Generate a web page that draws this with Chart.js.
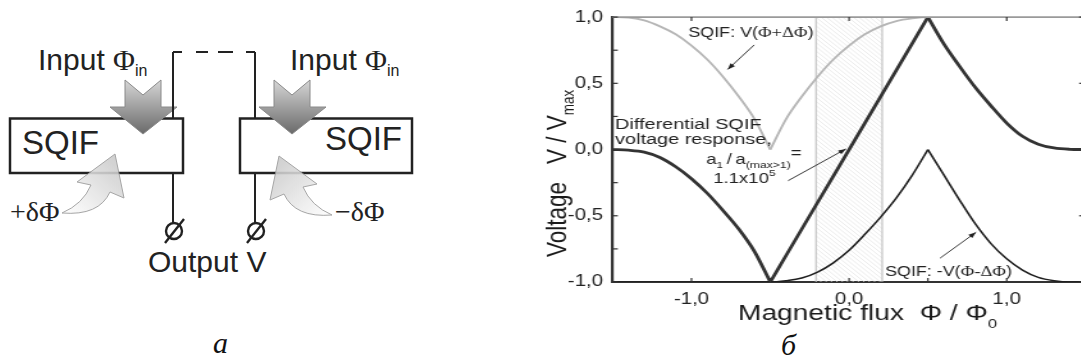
<!DOCTYPE html>
<html>
<head>
<meta charset="utf-8">
<script src="https://cdn.jsdelivr.net/npm/chart.js@4/dist/chart.umd.min.js"></script>
<style>
  html, body { margin: 0; padding: 0; background: #fff; }
  body { width: 1081px; height: 363px; overflow: hidden; position: relative; }
  #scheme { position: absolute; left: 0; top: 0; }
  #chartWrap {
    position: absolute; left: 520px; top: 0; width: 470px; height: 363px;
    transform: scaleX(1.28); transform-origin: 0 0;
  }
  .figLabel {
    position: absolute; font-family: "Liberation Serif", "Times New Roman", serif;
    font-style: italic; font-size: 30px; color: #111; line-height: 1;
  }
</style>
</head>
<body>

<svg id="scheme" width="470" height="363" xmlns="http://www.w3.org/2000/svg">
  <defs>
    <linearGradient id="gDown" x1="0" y1="0" x2="0" y2="1">
      <stop offset="0" stop-color="#d6d6d6"/>
      <stop offset="1" stop-color="#6a6a6a"/>
    </linearGradient>
    <linearGradient id="gCurl" x1="0" y1="1" x2="1" y2="0">
      <stop offset="0" stop-color="#ffffff"/>
      <stop offset="1" stop-color="#c4c4c4"/>
    </linearGradient>
  </defs>

  <!-- boxes -->
  <rect x="10" y="118.5" width="173" height="54.5" fill="#fff" stroke="#222" stroke-width="2.5"/>
  <rect x="240" y="118.5" width="172" height="54.5" fill="#fff" stroke="#222" stroke-width="2.5"/>

  <!-- curved flux arrows -->
  <g opacity="0.88">
    <path d="M62,213 Q99,216 110,192 L124,198 L115,154 L77,182 L91,185 Q83,204 62,213 Z"
          fill="url(#gCurl)" stroke="#9a9a9a" stroke-width="1"/>
  </g>
  <g transform="translate(394,2) scale(-1,1)" opacity="0.88">
    <path d="M62,213 Q99,216 110,192 L124,198 L115,154 L77,182 L91,185 Q83,204 62,213 Z"
          fill="url(#gCurl)" stroke="#9a9a9a" stroke-width="1"/>
  </g>

  <!-- input arrows -->
  <polygon points="125,80 143,95 161,80 161,107 177,107 143,134 110,107 125,107"
           fill="url(#gDown)" stroke="#8a8a8a" stroke-width="1"/>
  <polygon points="274,80 292,95 310,80 310,107 326,107 292,134 259,107 274,107"
           fill="url(#gDown)" stroke="#8a8a8a" stroke-width="1"/>

  <!-- wires -->
  <g stroke="#222" stroke-width="2" fill="none">
    <path d="M173,118 V52"/>
    <path d="M255,118 V52"/>
    <path d="M173,52 H255" stroke-dasharray="9,14,12,10,15,13,9"/>
    <path d="M173,173 V223"/>
    <path d="M255,173 V223"/>
    <circle cx="174" cy="231" r="8" fill="#fff" stroke-width="2.4"/>
    <circle cx="256" cy="231" r="8" fill="#fff" stroke-width="2.4"/>
    <path d="M165,243 L184,219" stroke-width="2.4"/>
    <path d="M247,243 L266,219" stroke-width="2.4"/>
  </g>

  <!-- labels -->
  <g fill="#222" font-family="Liberation Sans, Arial, sans-serif">
    <text x="38" y="70" font-size="30">Input <tspan font-family="Liberation Serif, serif">Φ</tspan><tspan font-size="16" dy="6">in</tspan></text>
    <text x="290" y="70" font-size="30">Input <tspan font-family="Liberation Serif, serif">Φ</tspan><tspan font-size="16" dy="6">in</tspan></text>
    <text x="22" y="154" font-size="33">SQIF</text>
    <text x="325" y="150" font-size="33">SQIF</text>
    <text x="148" y="272" font-size="30">Output V</text>
    <text x="10" y="221" font-size="28" font-family="Liberation Serif, serif">+δΦ</text>
    <text x="335" y="221" font-size="28" font-family="Liberation Serif, serif">−δΦ</text>
  </g>
</svg>

<div class="figLabel" style="left:213px; top:328px;">а</div>
<div class="figLabel" style="left:781px; top:330px;">б</div>

<div id="chartWrap"><canvas id="fluxChart"></canvas></div>

<script>
// magnetic flux Φ/Φ0 (shared grid for all curves)
const fluxX = [-1.5, -1.4, -1.3, -1.2, -1.1, -1.0, -0.9, -0.8, -0.7, -0.6, -0.5,
               -0.4, -0.3, -0.2, -0.1, 0.0, 0.1, 0.2, 0.3, 0.4, 0.5,
               0.6, 0.7, 0.8, 0.9, 1.0, 1.1, 1.2, 1.3, 1.4, 1.5];

// SQIF: V(Φ+ΔΦ), light grey
const sqifPlus = [1.0, 0.997, 0.975, 0.93, 0.87, 0.785, 0.68, 0.55, 0.40, 0.23, 0.0,
                  0.23, 0.40, 0.55, 0.68, 0.785, 0.87, 0.93, 0.97, 0.99, 1.0,
                  1.0, 1.0, 1.0, 1.0, 1.0, 1.0, 1.0, 1.0, 1.0, 1.0];

// differential SQIF voltage response
const sqifDiff = [0.0, -0.005, -0.02, -0.06, -0.13, -0.22, -0.33, -0.46, -0.60, -0.77, -1.0,
                  -0.8, -0.6, -0.4, -0.2, 0.0, 0.2, 0.4, 0.6, 0.8, 1.0,
                  0.80, 0.63, 0.47, 0.33, 0.20, 0.10, 0.04, 0.012, 0.002, 0.0];

// SQIF: -V(Φ-ΔΦ)
const sqifMinus = [-1.0, -1.0, -1.0, -1.0, -1.0, -1.0, -1.0, -1.0, -1.0, -1.0, -1.0,
                   -0.99, -0.97, -0.925, -0.855, -0.76, -0.64, -0.51, -0.365, -0.195, 0.0,
                   -0.19, -0.38, -0.56, -0.71, -0.825, -0.91, -0.965, -0.99, -1.0, -1.0];

// cusps where the curves break
const cuspPlus = [-0.5];
const cuspDiff = [-0.5, 0.5];
const cuspMinus = [0.5];

// tick labels
const xTickLabels = [-1, 0, 1];
const yTickLabels = [-1, -0.5, 0, 0.5, 1];

// shaded working range
const bandRange = [-0.21, 0.21];

const SANS = '"Liberation Sans", Arial, sans-serif';
const SERIF = '"Liberation Serif", "Times New Roman", serif';

const fmt = v => v.toFixed(1).replace('.', ',');
const near = (a, b) => Math.abs(a - b) < 1e-6;

// split a series at its cusps so each smooth piece keeps a sharp corner
function pieces(ys, cusps) {
    const cuts = [0, ...cusps.map(c => fluxX.findIndex(x => near(x, c))), fluxX.length - 1];
    const out = [];
    for (let i = 0; i < cuts.length - 1; i++) {
        const pts = [];
        for (let k = cuts[i]; k <= cuts[i + 1]; k++) pts.push({ x: fluxX[k], y: ys[k] });
        out.push(pts);
    }
    return out;
}

function lineSets(ys, cusps, color, width) {
    return pieces(ys, cusps).map(pts => ({
        data: pts,
        borderColor: color,
        borderWidth: width,
        pointRadius: 0,
        cubicInterpolationMode: 'monotone',
        fill: false,
    }));
}

const datasets = [
    ...lineSets(sqifPlus, cuspPlus, '#b6b6b6', 1.9),
    ...lineSets(sqifMinus, cuspMinus, '#1e1e1e', 1.6),
    ...lineSets(sqifDiff, cuspDiff, '#333333', 2.8),
];

function drawParts(ctx, parts, x, y) {
    ctx.textAlign = 'left';
    ctx.textBaseline = 'alphabetic';
    for (const p of parts) {
        ctx.font = `${p.size}px ${p.family || SANS}`;
        ctx.fillText(p.t, x, y + (p.dy || 0));
        x += ctx.measureText(p.t).width;
    }
}

function arrow(ctx, x0, y0, x1, y1) {
    const a = Math.atan2(y1 - y0, x1 - x0);
    ctx.beginPath();
    ctx.moveTo(x0, y0);
    ctx.lineTo(x1, y1);
    ctx.stroke();
    ctx.beginPath();
    ctx.moveTo(x1, y1);
    ctx.lineTo(x1 - 6 * Math.cos(a) + 2.3 * Math.sin(a), y1 - 6 * Math.sin(a) - 2.3 * Math.cos(a));
    ctx.lineTo(x1 - 6 * Math.cos(a) - 2.3 * Math.sin(a), y1 - 6 * Math.sin(a) + 2.3 * Math.cos(a));
    ctx.closePath();
    ctx.fill();
}

const notes = [
    { x: -1.02, y: 0.852, parts: [{ t: 'SQIF: V(', size: 14 }, { t: 'Φ+ΔΦ', size: 14.5, family: SERIF }, { t: ')', size: 14 }] },
    { x: -1.484, y: 0.155, parts: [{ t: 'Differential SQIF', size: 15.5 }] },
    { x: -1.484, y: 0.042, parts: [{ t: 'voltage response,', size: 15.5 }] },
    { x: -0.907, y: -0.107, parts: [{ t: 'a', size: 14.5 }, { t: '1', size: 9, dy: 4 }, { t: '\u2009/\u2009a', size: 14.5 },
                                     { t: '(max>1)', size: 9.5, dy: 4 }, { t: '=', size: 14.5, dy: -6 }] },
    { x: -0.862, y: -0.25, parts: [{ t: '1.1x10', size: 14.5 }, { t: '5', size: 9.5, dy: -7 }] },
    { x: 0.228, y: -0.955, parts: [{ t: 'SQIF: -V(', size: 14 }, { t: 'Φ-ΔΦ', size: 14.5, family: SERIF }, { t: ')', size: 14 }] },
];

const pointers = [
    [-0.602, 0.79, -0.77, 0.605],
    [-0.387, -0.235, -0.02, 0.005],
    [0.577, -0.82, 0.805, -0.625],
];

const decor = {
    id: 'decor',
    beforeDatasetsDraw(chart) {
        const { ctx, chartArea: area, scales: { x } } = chart;
        const x0 = x.getPixelForValue(bandRange[0]);
        const x1 = x.getPixelForValue(bandRange[1]);
        ctx.save();
        ctx.beginPath();
        ctx.rect(x0, area.top, x1 - x0, area.bottom - area.top);
        ctx.clip();
        ctx.strokeStyle = '#e2e2e2';
        ctx.lineWidth = 0.7;
        const h = area.bottom - area.top;
        for (let s = x0 - h; s < x1; s += 4.2) {
            ctx.beginPath();
            ctx.moveTo(s, area.top);
            ctx.lineTo(s + h, area.bottom);
            ctx.stroke();
        }
        ctx.restore();
        ctx.save();
        ctx.strokeStyle = '#bcbcbc';
        ctx.lineWidth = 1.1;
        [x0, x1].forEach(px => {
            ctx.beginPath();
            ctx.moveTo(px, area.top);
            ctx.lineTo(px, area.bottom);
            ctx.stroke();
        });
        ctx.restore();
    },
    afterDatasetsDraw(chart) {
        const { ctx, chartArea: area, scales: { x, y } } = chart;
        ctx.save();
        // top and right frame
        ctx.strokeStyle = '#9a9a9a';
        ctx.lineWidth = 1.6;
        ctx.beginPath();
        ctx.moveTo(area.left, area.top);
        ctx.lineTo(area.right, area.top);
        ctx.lineTo(area.right, area.bottom);
        ctx.stroke();

        // inward ticks
        ctx.strokeStyle = '#333';
        ctx.lineWidth = 1.2;
        y.ticks.forEach(t => {
            const py = y.getPixelForValue(t.value);
            ctx.beginPath();
            ctx.moveTo(area.left, py);
            ctx.lineTo(area.left + 4, py);
            ctx.stroke();
            if (near(t.value * 2, Math.round(t.value * 2))) {
                ctx.beginPath();
                ctx.moveTo(area.right, py);
                ctx.lineTo(area.right - 5, py);
                ctx.stroke();
            }
        });
        x.ticks.forEach(t => {
            const px = x.getPixelForValue(t.value);
            ctx.beginPath();
            ctx.moveTo(px, area.bottom);
            ctx.lineTo(px, area.bottom - 4);
            ctx.stroke();
            if (near(t.value, Math.round(t.value))) {
                ctx.beginPath();
                ctx.moveTo(px, area.top);
                ctx.lineTo(px, area.top + 4);
                ctx.stroke();
            }
        });

        // annotations
        ctx.fillStyle = '#222';
        notes.forEach(n => drawParts(ctx, n.parts, x.getPixelForValue(n.x), y.getPixelForValue(n.y)));
        ctx.strokeStyle = '#222';
        ctx.lineWidth = 0.9;
        pointers.forEach(p => arrow(ctx, x.getPixelForValue(p[0]), y.getPixelForValue(p[1]),
                                         x.getPixelForValue(p[2]), y.getPixelForValue(p[3])));

        // axis titles
        ctx.fillStyle = '#1a1a1a';
        drawParts(ctx, [{ t: 'Magnetic flux  Φ / Φ', size: 22 }, { t: '0', size: 13, dy: 8 }], 170.3, 320);
        ctx.translate(36.3, 0);
        ctx.rotate(-Math.PI / 2);
        drawParts(ctx, [{ t: 'Voltage', size: 22.5 }], -257, 0);
        drawParts(ctx, [{ t: 'V / V', size: 22.5 }, { t: 'max', size: 13.5, dy: 6 }], -164, 0);
        ctx.restore();
    }
};

new Chart(document.getElementById('fluxChart'), {
    type: 'line',
    data: { datasets },
    plugins: [decor],
    options: {
        responsive: true,
        maintainAspectRatio: false,
        animation: false,
        layout: { padding: { left: 0, right: 28.2, top: 15.3, bottom: 0 } },
        plugins: { legend: { display: false }, tooltip: { enabled: false } },
        scales: {
            x: {
                type: 'linear',
                min: -1.5,
                max: 1.5,
                grid: { display: false, drawTicks: false },
                border: { display: true, color: '#333', width: 2 },
                ticks: {
                    stepSize: 0.5,
                    autoSkip: false,
                    maxRotation: 0,
                    padding: 8,
                    color: '#222',
                    font: { family: SANS, size: 16 },
                    callback: v => xTickLabels.some(l => near(l, v)) ? fmt(v) : '',
                },
                afterFit: s => { s.height = 81; },
            },
            y: {
                type: 'linear',
                min: -1,
                max: 1,
                grid: { display: false, drawTicks: false },
                border: { display: true, color: '#333', width: 2.2 },
                ticks: {
                    stepSize: 0.25,
                    autoSkip: false,
                    padding: 7.5,
                    color: '#222',
                    font: { family: SANS, size: 16 },
                    callback: v => yTickLabels.some(l => near(l, v)) ? fmt(v) : '',
                },
                afterFit: s => { s.width = 72.4; },
            },
        },
    },
});
</script>
</body>
</html>
